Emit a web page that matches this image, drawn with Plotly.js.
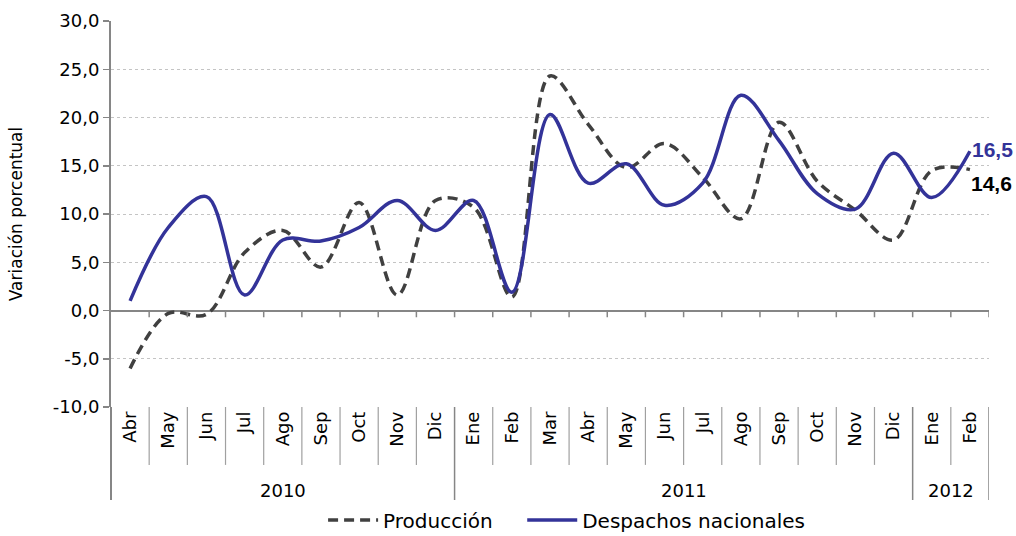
<!DOCTYPE html>
<html>
<head>
<meta charset="utf-8">
<script src="https://cdn.plot.ly/plotly-3.0.1.min.js"></script>
<style>
  html, body { margin: 0; padding: 0; background: #ffffff; }
  #chart { width: 1016px; height: 536px; }
</style>
</head>
<body>
<div id="chart"></div>
<script>
// ---- data ----
var months = ['Abr','May','Jun','Jul','Ago','Sep','Oct','Nov','Dic',
              'Ene','Feb','Mar','Abr','May','Jun','Jul','Ago','Sep','Oct','Nov','Dic',
              'Ene','Feb'];
var years = ['2010','2010','2010','2010','2010','2010','2010','2010','2010',
             '2011','2011','2011','2011','2011','2011','2011','2011','2011','2011','2011','2011',
             '2012','2012'];
var produccion = [-6.0, -0.3, -0.4, 6.0, 8.3, 4.5, 11.2, 1.6, 11.4,
                  10.7, 1.4, 24.3, 19.3, 14.8, 17.3, 13.8, 9.5, 19.5, 13.4, 10.4, 7.3,
                  14.5, 14.6];
var despachos = [1.0, 8.6, 11.8, 1.6, 7.3, 7.2, 8.6, 11.4, 8.3,
                 11.4, 1.9, 20.3, 13.2, 15.2, 10.9, 13.2, 22.3, 17.6, 12.1, 10.5, 16.3,
                 11.7, 16.5];
var seriesNames = ['Producción', 'Despachos nacionales'];
var yTicks = [-10, -5, 0, 5, 10, 15, 20, 25, 30];

// ---- build ----
function fmt(v) { return v.toFixed(1).replace('.', ','); }
var idx = months.map(function(_, i){ return i; });
var FONT = 'DejaVu Sans, Arial, sans-serif';
var AXIS = '#868686';

var traces = [
  { x: idx, y: produccion, name: seriesNames[0], type: 'scatter', mode: 'lines',
    legend: 'legend',
    line: { color: '#404040', width: 3.5, dash: '10px,6px', shape: 'spline', smoothing: 1 },
    hoverinfo: 'y' },
  { x: idx, y: despachos, name: seriesNames[1], type: 'scatter', mode: 'lines',
    legend: 'legend2',
    line: { color: '#333399', width: 3.5, shape: 'spline', smoothing: 1 },
    hoverinfo: 'y' }
];

// year groups
var groups = [];
years.forEach(function(y, i){
  if (!groups.length || groups[groups.length-1].year !== y) groups.push({year: y, start: i, end: i});
  else groups[groups.length-1].end = i;
});

var shapes = [];
var annotations = [];
var groupBounds = {};
groups.forEach(function(g){ groupBounds[g.start - 0.5] = 1; groupBounds[g.end + 0.5] = 1; });

for (var b = 0; b <= months.length; b++) {
  var xb = b - 0.5;
  if (b > 0) {
    shapes.push({ type: 'line', xref: 'x', yref: 'y', x0: xb, x1: xb, y0: 0, y1: -0.7,
                  line: { color: AXIS, width: 1.5 } });
  }
  shapes.push({ type: 'line', xref: 'x', yref: 'paper', x0: xb, x1: xb, y0: 0,
                y1: groupBounds[xb] ? -0.241 : -0.150,
                line: { color: groupBounds[xb] ? AXIS : '#a0a0a0', width: groupBounds[xb] ? 1.5 : 1.2 } });
}

groups.forEach(function(g){
  annotations.push({ xref: 'x', yref: 'paper', x: (g.start + g.end) / 2, y: -0.217,
                     text: g.year, showarrow: false, xanchor: 'center', yanchor: 'middle',
                     font: { family: FONT, size: 18, color: '#000' } });
});

var last = months.length - 1;
annotations.push({ xref: 'x', yref: 'y', x: last, y: despachos[last],
                   text: '<b>' + fmt(despachos[last]) + '</b>',
                   showarrow: false, xanchor: 'left', yanchor: 'middle', xshift: 0, yshift: 2,
                   font: { family: 'Liberation Sans, Arial, sans-serif', size: 21, color: '#333399' } });
annotations.push({ xref: 'x', yref: 'y', x: last, y: produccion[last],
                   text: '<b>' + fmt(produccion[last]) + '</b>',
                   showarrow: false, xanchor: 'left', yanchor: 'middle', xshift: -1, yshift: -14,
                   font: { family: 'Liberation Sans, Arial, sans-serif', size: 21, color: '#000' } });

var legendBase = { orientation: 'h', xref: 'container', yref: 'container',
                   xanchor: 'left', y: 0.03, yanchor: 'middle',
                   font: { family: FONT, size: 20, color: '#000' }, itemwidth: 50,
                   bgcolor: 'rgba(0,0,0,0)' };

var layout = {
  width: 1016, height: 536,
  margin: { l: 111, r: 27, t: 21, b: 129, pad: 0, autoexpand: false },
  paper_bgcolor: '#ffffff', plot_bgcolor: '#ffffff',
  separators: ',.',
  font: { family: FONT, size: 18, color: '#000' },
  showlegend: true,
  legend: Object.assign({}, legendBase, { x: 0.318 }),
  legend2: Object.assign({}, legendBase, { x: 0.514 }),
  xaxis: {
    range: [-0.5, months.length - 0.5], automargin: false,
    tickmode: 'array', tickvals: idx, ticktext: months, tickangle: -90,
    ticks: '', showgrid: false, zeroline: false, showline: false,
    tickfont: { family: FONT, size: 18, color: '#000' },
    fixedrange: true
  },
  yaxis: {
    range: [-10, 30], automargin: false,
    tickmode: 'array', tickvals: yTicks, ticktext: yTicks.map(fmt),
    showgrid: true, gridcolor: '#c4c4c4', griddash: 'dot', gridwidth: 1,
    showline: true, linecolor: AXIS, linewidth: 2,
    ticks: 'outside', ticklen: 6, tickcolor: AXIS, tickwidth: 1.5,
    zeroline: true, zerolinecolor: AXIS, zerolinewidth: 2,
    tickfont: { family: FONT, size: 18, color: '#000' },
    title: { text: 'Variación porcentual', font: { family: FONT, size: 17, color: '#000' }, standoff: 26 },
    fixedrange: true
  },
  shapes: shapes.concat([
    { type: 'line', xref: 'paper', yref: 'paper', x0: 0, x1: 0, y0: 0, y1: -0.241,
      line: { color: AXIS, width: 2 } }
  ]),
  annotations: annotations
};

Plotly.newPlot('chart', traces, layout, { displayModeBar: false, staticPlot: true });
</script>
</body>
</html>
